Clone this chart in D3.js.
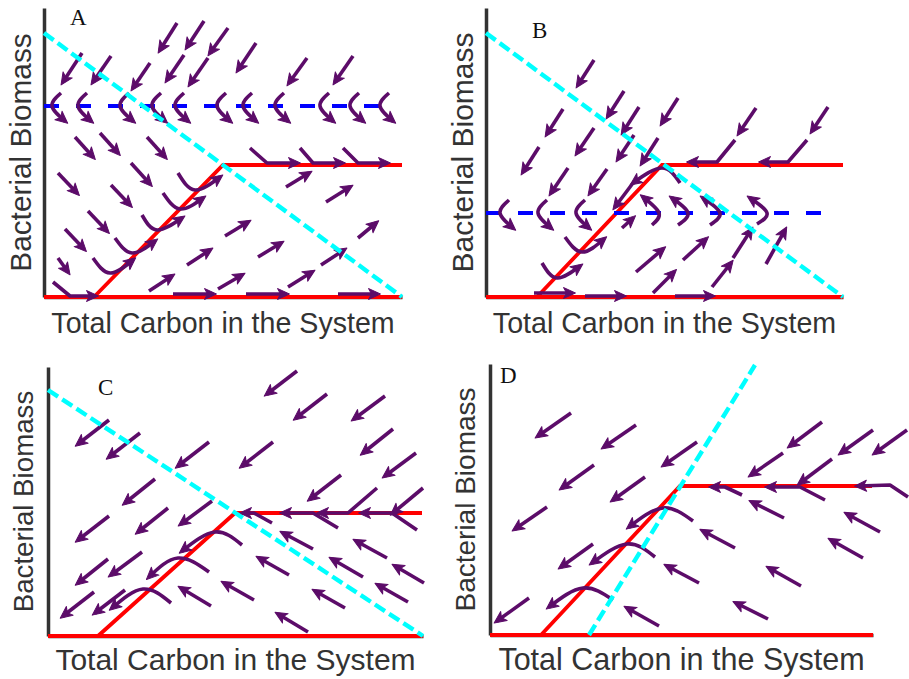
<!DOCTYPE html>
<html>
<head>
<meta charset="utf-8">
<script src="https://cdn.jsdelivr.net/npm/d3@7"></script>
<style>
  body { margin: 0; background: #fff; }
  text { fill: #333; }
</style>
</head>
<body>
<script>
// units are arbitrary carbon / biomass units, one panel each

// ---- panel A ----
var aXMax = 35.8, aYMax = 28.9;
var aKnee = [[5.0, 0], [17.9, 13.2], [35.8, 13.2]];
var aCyan = [[0, 26.4], [35.8, 0]];
var aBlue = [[0, 19.1], [34.6, 19.1]];
var aCurlX = [0.8, 3.4, 7.6, 10.8, 13.1, 17.3, 19.9, 23.1, 27.6, 30.6, 33.6];
var aCurlY = 19.1;
var aStraight = [
  [13.3, 27.4, 11.6, 24.7], [16.0, 27.6, 14.3, 25.0], [18.4, 26.9, 16.6, 24.4], [21.2, 25.4, 19.4, 22.7],
  [3.8, 24.4, 1.9, 21.5], [6.7, 24.1, 4.9, 21.5], [10.6, 23.4, 8.9, 20.9], [14.0, 24.2, 12.3, 21.7],
  [16.4, 23.9, 14.6, 21.3], [26.3, 23.9, 24.5, 21.4], [30.9, 24.1, 29.1, 21.5],
  [3.1, 16.0, 4.9, 14.0], [5.6, 16.4, 7.4, 14.4], [10.3, 16.0, 12.1, 14.0], [1.4, 12.4, 3.3, 10.4],
  [8.7, 13.4, 10.6, 11.3], [6.7, 11.2, 8.6, 9.2], [4.4, 8.6, 6.3, 6.6], [2.1, 6.8, 4.0, 4.8],
  [1.4, 3.9, 2.4, 2.5],
  [24.2, 11.0, 26.5, 12.4], [28.2, 9.5, 30.6, 11.0], [18.1, 6.1, 20.4, 7.5], [31.4, 5.9, 33.2, 7.4],
  [14.3, 3.2, 16.6, 4.7], [21.4, 4.0, 23.7, 5.4], [27.7, 3.2, 30.0, 4.7], [10.5, 0.6, 12.8, 2.1],
  [17.4, 0.8, 19.8, 2.2], [24.4, 1.0, 26.8, 2.5],
  [12.9, 0.3, 16.9, 0.3], [20.2, 0.3, 24.2, 0.3], [29.4, 0.3, 33.3, 0.3]
];
var aBent = [
  [[0.9, 1.5], [2.6, 0.1], [5.1, 0.1]],
  [[20.6, 14.9], [22.3, 13.4], [25.3, 13.4]],
  [[25.6, 14.9], [26.9, 13.4], [29.8, 13.4]],
  [[29.9, 14.9], [31.4, 13.4], [34.3, 13.4]]
];
var aCurved = [
  [[13.4, 12.4], [15.1, 10.7], [17.6, 12.0]],
  [[11.9, 10.4], [13.6, 8.8], [15.9, 9.9]],
  [[9.8, 8.2], [11.3, 6.7], [13.8, 7.9]],
  [[7.1, 5.9], [8.8, 4.4], [11.1, 5.6]],
  [[4.9, 3.9], [6.6, 2.4], [8.9, 3.7]]
];

// ---- panel B ----
var bXMax = 35.7, bYMax = 28.9;
var bKnee = [[5.1, 0], [17.6, 13.2], [35.7, 13.2]];
var bCyan = [[0, 26.4], [35.7, 0]];
var bBlue = [[0, 8.4], [34.6, 8.4]];
var bCurlX = [1.4, 5.2, 9.0];
var bCurlY = 8.4;
var bStraight = [
  [10.8, 23.7, 9.2, 21.2], [13.8, 20.6, 12.2, 18.1], [15.3, 19.0, 13.7, 16.5], [19.2, 19.9, 17.6, 17.4],
  [27.0, 18.9, 25.3, 16.4], [34.2, 19.0, 32.6, 16.6], [7.7, 18.8, 6.1, 16.3], [10.8, 16.9, 9.1, 14.4],
  [14.8, 16.2, 13.2, 13.8], [17.2, 15.9, 15.6, 13.4], [5.3, 15.0, 3.7, 12.5], [8.2, 12.9, 6.5, 10.4],
  [12.1, 12.8, 10.4, 10.4], [14.7, 11.4, 12.9, 9.0],
  [13.6, 6.9, 14.7, 7.9],
  [15.0, 2.5, 17.7, 4.8], [19.7, 3.7, 22.0, 5.8], [24.7, 3.9, 26.5, 6.7], [28.0, 3.3, 29.9, 6.7],
  [16.7, 0.4, 18.8, 2.5], [22.6, 1.0, 24.5, 3.4],
  [4.8, 0.4, 8.6, 0.4], [9.9, 0.1, 13.7, 0.1], [18.9, 0.1, 22.6, 0.1]
];
var bBent = [
  [[24.9, 15.7], [23.1, 13.5], [20.4, 13.5]],
  [[32.1, 15.7], [30.2, 13.5], [27.6, 13.5]]
];
var bCurved = [
  [[19.4, 11.4], [17.6, 12.9], [14.7, 11.4]],
  [[16.6, 7.2], [17.3, 8.4], [15.7, 10.0]],
  [[19.2, 7.2], [20.2, 8.4], [18.6, 9.9]],
  [[22.4, 7.2], [23.4, 8.4], [21.7, 9.9]],
  [[27.1, 7.3], [28.1, 8.4], [26.4, 9.9]],
  [[7.9, 6.0], [9.6, 4.5], [11.8, 5.8]],
  [[5.6, 3.4], [7.1, 1.9], [9.4, 3.1]]
];

// ---- panel C ----
var cXMax = 37.5, cYMax = 26.9;
var cKnee = [[5.0, 0], [18.7, 12.3], [37.4, 12.3]];
var cCyan = [[0, 24.6], [37.5, 0]];
var cStraight = [
  [24.9, 26.5, 21.9, 24.2], [27.9, 24.2, 24.8, 21.8], [33.7, 24.0, 30.6, 21.7], [6.1, 21.6, 3.0, 19.2],
  [9.2, 20.3, 6.1, 17.9], [16.1, 19.4, 13.0, 17.0], [22.5, 19.4, 19.4, 17.0], [34.5, 20.7, 31.5, 18.3],
  [36.8, 18.3, 33.7, 16.0], [29.3, 16.1, 26.2, 13.7], [10.7, 15.7, 7.7, 13.3], [16.4, 13.5, 13.3, 11.2],
  [12.0, 12.8, 9.0, 10.4], [6.1, 12.0, 3.0, 9.6], [9.4, 8.4, 6.3, 6.1], [6.0, 7.7, 3.0, 5.3],
  [4.6, 4.4, 1.5, 2.0], [7.7, 4.6, 4.7, 2.3],
  [26.5, 8.7, 23.5, 10.3], [33.9, 7.8, 30.8, 9.5], [24.1, 6.1, 21.1, 7.8], [31.5, 5.9, 28.4, 7.7],
  [37.6, 5.3, 34.7, 7.0], [16.3, 3.0, 13.3, 4.8], [20.6, 3.6, 17.6, 5.3], [29.7, 2.8, 26.7, 4.5],
  [36.0, 3.4, 33.0, 5.1], [26.0, 0.4, 23.0, 2.2],
  [37.5, 14.8, 34.5, 12.3]
];
var cBent = [
  [[22.4, 11.3], [20.6, 12.3], [19.5, 12.3]],
  [[29.0, 10.8], [26.5, 12.3], [23.5, 12.3]],
  [[32.9, 14.8], [30.0, 12.3], [27.2, 12.3]],
  [[36.9, 10.6], [34.4, 12.3], [31.4, 12.3]]
];
var cCurved = [
  [[19.4, 9.1], [16.7, 10.4], [13.4, 8.5]],
  [[16.1, 6.4], [13.0, 7.8], [10.1, 5.9]],
  [[12.3, 3.3], [9.5, 4.7], [6.4, 2.8]]
];

// ---- panel D ----
var dXMax = 38.3, dYMax = 27.1;
var dKnee = [[5.1, 0], [19.0, 14.9], [38.2, 14.9]];
var dCyan = [[9.9, 0], [26.5, 27.0]];
var dStraight = [
  [8.1, 22.2, 4.8, 19.9], [14.6, 21.0, 11.4, 18.8], [20.7, 19.3, 17.4, 17.0], [10.4, 17.0, 7.2, 14.7],
  [15.5, 15.8, 12.3, 13.5], [5.7, 12.8, 2.5, 10.6], [33.2, 21.3, 30.0, 18.9], [38.3, 20.5, 35.1, 18.2],
  [41.7, 20.5, 38.5, 18.2], [29.3, 18.2, 26.1, 16.0], [34.2, 17.6, 31.0, 15.2], [10.3, 9.1, 7.1, 6.8],
  [3.9, 3.7, 0.7, 1.4],
  [29.4, 11.7, 26.2, 13.3], [24.5, 8.7, 21.3, 10.4], [39.0, 10.3, 35.7, 12.1], [37.3, 7.7, 34.1, 9.5],
  [20.9, 5.2, 17.7, 6.9], [31.1, 4.9, 27.9, 6.7], [16.9, 0.9, 13.7, 2.7], [27.8, 1.6, 24.6, 3.2]
];
var dBent = [
  [[25.2, 14.0], [23.5, 14.8], [22.2, 14.8]],
  [[33.5, 13.5], [31.0, 14.8], [27.8, 14.8]],
  [[41.8, 13.8], [40.0, 15.0], [36.8, 14.9]]
];
var dCurved = [
  [[20.3, 11.4], [17.3, 12.7], [13.9, 10.8]],
  [[16.5, 7.8], [13.7, 9.1], [10.2, 7.2]],
  [[12.3, 3.5], [9.3, 4.7], [5.9, 2.8]]
];

var purple = "#5c0c69";
var arrowWidth = 3.6;

var svg = d3.select("body").append("svg")
    .attr("width", 909)
    .attr("height", 679);

// layout of each panel (pixels)
var panels = [
  { label: "A", left: 44, bottom: 297, w: 358, h: 289, labX: 70, labY: 25, xFont: 28.6, yFont: 29.8, xBase: 36, yBase: 13,
    xMax: aXMax, yMax: aYMax, knee: aKnee, cyan: aCyan, blue: aBlue, curlX: aCurlX, curlY: aCurlY,
    straight: aStraight, bent: aBent, curved: aCurved },
  { label: "B", left: 486, bottom: 297, w: 357, h: 289, labX: 532, labY: 38, xFont: 28.6, yFont: 30, xBase: 36, yBase: 13,
    xMax: bXMax, yMax: bYMax, knee: bKnee, cyan: bCyan, blue: bBlue, curlX: bCurlX, curlY: bCurlY,
    straight: bStraight, bent: bBent, curved: bCurved },
  { label: "C", left: 48, bottom: 636, w: 375, h: 269, labX: 98, labY: 395, xFont: 30, yFont: 27.7, xBase: 34, yBase: 15,
    xMax: cXMax, yMax: cYMax, knee: cKnee, cyan: cCyan, blue: null, curlX: [], curlY: 0,
    straight: cStraight, bent: cBent, curved: cCurved },
  { label: "D", left: 490, bottom: 635, w: 383, h: 271, labX: 500, labY: 383, xFont: 30.5, yFont: 28, xBase: 35, yBase: 15,
    xMax: dXMax, yMax: dYMax, knee: dKnee, cyan: dCyan, blue: null, curlX: [], curlY: 0,
    straight: dStraight, bent: dBent, curved: dCurved }
];

panels.forEach(drawPanel);

function drawPanel(p) {
  var x = d3.scaleLinear().domain([0, p.xMax]).range([p.left, p.left + p.w]);
  var y = d3.scaleLinear().domain([0, p.yMax]).range([p.bottom, p.bottom - p.h]);
  var line = d3.line().x(function(d) { return x(d[0]); }).y(function(d) { return y(d[1]); });
  var smooth = d3.line().curve(d3.curveNatural).x(function(d) { return x(d[0]); }).y(function(d) { return y(d[1]); });

  var g = svg.append("g").attr("class", "panel");

  // axes without ticks
  g.append("g").attr("transform", "translate(0," + p.bottom + ")")
      .call(d3.axisBottom(x).tickValues([]).tickSizeOuter(0));
  g.append("g").attr("transform", "translate(" + p.left + ",0)")
      .call(d3.axisLeft(y).tickValues([]).tickSizeOuter(0));
  g.selectAll(".domain").attr("stroke", "#333").attr("stroke-width", 3.5);

  // nullclines
  g.append("path").attr("d", line([[0, 0], [p.xMax, 0]]))
      .attr("fill", "none").attr("stroke", "#ff0000").attr("stroke-width", 3.8);
  g.append("path").attr("d", line(p.knee))
      .attr("fill", "none").attr("stroke", "#ff0000").attr("stroke-width", 3.8);
  if (p.blue) {
    g.append("path").attr("d", line(p.blue))
        .attr("fill", "none").attr("stroke", "#0000ff").attr("stroke-width", 4.2)
        .attr("stroke-dasharray", "15 17");
  }

  var arrows = g.append("g").attr("class", "arrows");

  // straight arrows
  p.straight.forEach(function(s) {
    var x1 = x(s[0]), y1 = y(s[1]), x2 = x(s[2]), y2 = y(s[3]);
    arrows.append("line")
        .attr("x1", x1).attr("y1", y1).attr("x2", x2).attr("y2", y2)
        .attr("stroke", purple).attr("stroke-width", arrowWidth);
    head(arrows, x2, y2, Math.atan2(y2 - y1, x2 - x1));
  });

  // bent (polyline) arrows
  p.bent.forEach(function(b) {
    arrows.append("path").attr("d", line(b))
        .attr("fill", "none").attr("stroke", purple).attr("stroke-width", arrowWidth)
        .attr("stroke-linejoin", "round");
    var a = b[b.length - 2], e = b[b.length - 1];
    head(arrows, x(e[0]), y(e[1]), Math.atan2(y(e[1]) - y(a[1]), x(e[0]) - x(a[0])));
  });

  // curved arrows
  p.curved.forEach(function(c) {
    var path = arrows.append("path").attr("d", smooth(c))
        .attr("fill", "none").attr("stroke", purple).attr("stroke-width", arrowWidth);
    tipOf(arrows, path.node());
  });

  // curls across the dashed line
  p.curlX.forEach(function(cx) {
    var px = x(cx), py = y(p.curlY);
    var pts = [[px + 9, py - 13], [px, py], [px + 13, py + 15]];
    var path = arrows.append("path")
        .attr("d", d3.line().curve(d3.curveNatural)(pts))
        .attr("fill", "none").attr("stroke", purple).attr("stroke-width", arrowWidth);
    tipOf(arrows, path.node());
  });

  // cyan dashed nullcline on top
  g.append("path").attr("d", line(p.cyan))
      .attr("fill", "none").attr("stroke", "#00ffff").attr("stroke-width", 4.4)
      .attr("stroke-dasharray", "12 5");

  // texts
  g.append("text").attr("x", p.labX).attr("y", p.labY)
      .attr("font-family", "Liberation Serif, Times New Roman, serif")
      .attr("font-size", 23).style("fill", "#111").text(p.label);

  g.append("text")
      .attr("x", p.left + p.w / 2).attr("y", p.bottom + p.xBase)
      .attr("text-anchor", "middle")
      .attr("font-family", "Liberation Sans, Arial, sans-serif")
      .attr("font-size", p.xFont)
      .text("Total Carbon in the System");

  g.append("text")
      .attr("transform", "translate(" + (p.left - p.yBase) + "," + (p.bottom - p.h / 2) + ") rotate(-90)")
      .attr("text-anchor", "middle")
      .attr("font-family", "Liberation Sans, Arial, sans-serif")
      .attr("font-size", p.yFont)
      .text("Bacterial Biomass");
}

function tipOf(g, node) {
  var L = node.getTotalLength();
  var a = node.getPointAtLength(Math.max(0, L - 4));
  var e = node.getPointAtLength(L);
  head(g, e.x, e.y, Math.atan2(e.y - a.y, e.x - a.x));
}

function head(g, tx, ty, ang) {
  g.append("path")
      .attr("d", "M3.5,0L-8.5,-5.5L-5.5,0L-8.5,5.5Z")
      .attr("transform", "translate(" + tx + "," + ty + ") rotate(" + (ang * 180 / Math.PI) + ")")
      .attr("fill", purple)
      .attr("stroke", purple).attr("stroke-width", 1).attr("stroke-linejoin", "round");
}
</script>
</body>
</html>
